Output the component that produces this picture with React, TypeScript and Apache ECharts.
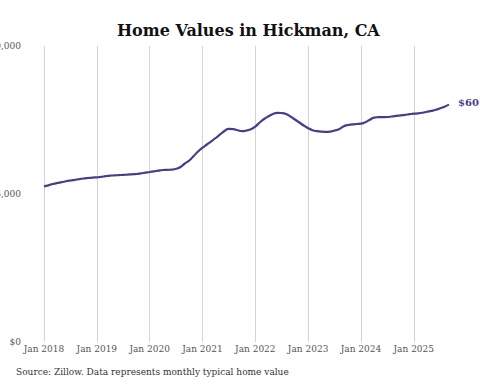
import React, { useEffect, useRef } from "react";
import * as echarts from "echarts";

const MONTH_NAMES = ["Jan", "Feb", "Mar", "Apr", "May", "Jun", "Jul", "Aug", "Sep", "Oct", "Nov", "Dec"];
const START_YEAR = 2018;

// Typical home value, monthly from Jan 2018 to Sep 2025
const VALUES = [
  394500, 397000, 400300, 402900, 404900, 407200, 409200, 411000, 412800, 414300, 415500, 416600,
  417300, 418600, 420100, 421400, 422100, 422900, 423400, 424200, 424900, 425700, 427200, 429000,
  430700, 432500, 434300, 435800, 436300, 436600, 438900, 443400, 452300, 459900, 471300, 482700,
  492300, 500400, 508500, 516900, 525800, 534600, 540200, 539200, 536400, 534100, 535900, 538900,
  546000, 556200, 565000, 571900, 577700, 580700, 580200, 577700, 571400, 563800, 556200, 548600,
  541700, 536700, 534100, 532900, 532600, 533100, 535900, 539200, 546000, 549800, 551400, 552400,
  553100, 556900, 563000, 568600, 569600, 569900, 570100, 571400, 572900, 574400, 575700, 577200,
  578500, 579200, 580800, 583300, 585600, 588300, 592100, 596200, 601400,
];

const CATEGORIES = VALUES.map((_, i) => `${MONTH_NAMES[i % 12]} ${START_YEAR + Math.floor(i / 12)}`);

const Y_TICKS = [0, 375000, 750000];
const TITLE = "Home Values in Hickman, CA";
const SOURCE = "Source: Zillow. Data represents monthly typical home value";

const LINE_COLOR = "#483d8b";
const FONT = "'DejaVu Serif', serif";

const fmt = (v: number) => "$" + v.toLocaleString("en-US");

export default function App() {
  const ref = useRef<HTMLDivElement>(null);
  useEffect(() => {
    if (!ref.current) return;
    const chart = echarts.init(ref.current, undefined, { renderer: "svg" });
    chart.setOption({
      animation: false,
      backgroundColor: "#ffffff",
      title: {
        text: TITLE,
        left: 112,
        top: 17,
        textStyle: { fontFamily: FONT, fontSize: 16, fontWeight: "bold", color: "#111111" },
      },
      graphic: [
        {
          type: "text",
          left: 16,
          top: 367,
          style: { text: SOURCE, fontFamily: FONT, fontSize: 9, fill: "#333333" },
        },
      ],
      grid: { left: 44, right: 31, top: 46, bottom: 42, containLabel: false, outerBoundsMode: "none" },
      xAxis: {
        type: "category",
        data: CATEGORIES,
        boundaryGap: false,
        axisLine: { show: false },
        axisTick: { show: false },
        axisLabel: {
          interval: (i: number) => i % 12 === 0,
          margin: 2,
          fontFamily: FONT,
          fontSize: 9,
          color: "#555555",
        },
        splitLine: {
          show: true,
          interval: (i: number) => i % 12 === 0,
          lineStyle: { color: "#d4d4d4", width: 1 },
        },
      },
      yAxis: {
        type: "value",
        min: Y_TICKS[0],
        max: Y_TICKS[Y_TICKS.length - 1],
        interval: Y_TICKS[1] - Y_TICKS[0],
        axisLine: { show: false },
        axisTick: { show: false },
        splitLine: { show: false },
        axisLabel: {
          margin: 23,
          fontFamily: FONT,
          fontSize: 9,
          color: "#555555",
          formatter: (v: number) => fmt(v),
        },
      },
      series: [
        {
          type: "line",
          data: VALUES,
          smooth: true,
          showSymbol: false,
          lineStyle: { color: LINE_COLOR, width: 2.2 },
          itemStyle: { color: LINE_COLOR },
          endLabel: {
            show: true,
            distance: 9,
            offset: [0, -2],
            formatter: (p: any) => fmt(p.value),
            fontFamily: FONT,
            fontSize: 10,
            fontWeight: "bold",
            color: LINE_COLOR,
          },
        },
      ],
    });
    return () => chart.dispose();
  }, []);
  return (
    <div
      ref={ref}
      style={{ position: "fixed", left: 0, top: 0, width: 480, height: 384 }}
    />
  );
}
